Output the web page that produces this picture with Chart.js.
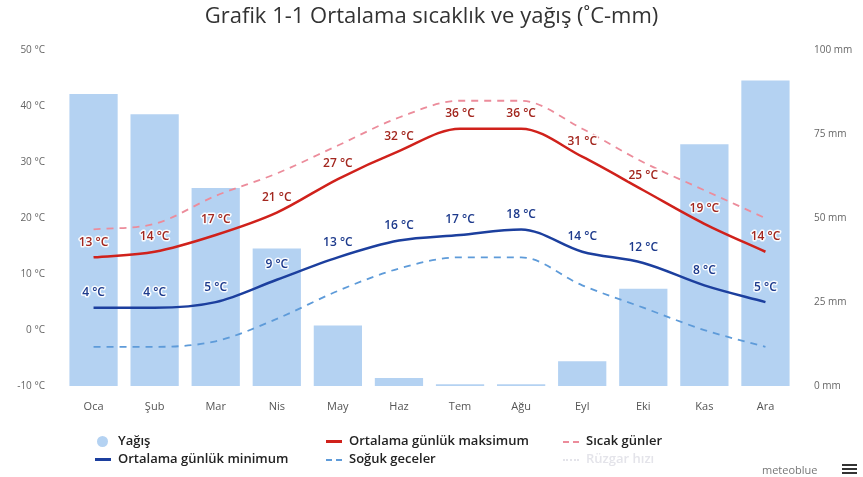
<!DOCTYPE html>
<html lang="tr">
<head>
<meta charset="utf-8">
<script src="https://cdn.jsdelivr.net/npm/chart.js@4.4.1/dist/chart.umd.min.js"></script>
<style>
    body { margin: 0; background: #fff; font-family: "Open Sans", sans-serif; }
    .wrap { position: relative; width: 863px; height: 477px; }
    #chart { position: absolute; left: 0; top: 0; }
    .legend { position: absolute; left: 0; top: 0; width: 863px; height: 477px; pointer-events: none; }
    .leg { position: absolute; font-size: 13px; font-weight: 600; color: #222; white-space: nowrap; line-height: 16px; }
    .leg i { display: inline-block; vertical-align: middle; margin-right: 7px; }
    .brand { position: absolute; left: 762px; top: 462px; font-size: 11px; color: #777; }
    .menu { position: absolute; left: 842px; top: 464px; width: 15px; }
    .menu b { display: block; height: 2px; background: #333; margin-bottom: 2px; }
</style>
</head>
<body>
<div class="wrap">
    <canvas id="chart" width="863" height="477"></canvas>
    <div class="legend" id="legend"></div>
    <div class="brand">meteoblue</div>
    <div class="menu"><b></b><b></b><b></b></div>
</div>
<script>
//Veriler
const aylar = ['Oca', 'Şub', 'Mar', 'Nis', 'May', 'Haz', 'Tem', 'Ağu', 'Eyl', 'Eki', 'Kas', 'Ara'];
const yagis = [87, 81, 59, 41, 18, 2.4, 0.5, 0.5, 7.4, 29, 72, 91];
const maksimum = [13, 14, 17, 21, 27, 32, 36, 36, 31, 25, 19, 14];
const minimum = [4, 4, 5, 9, 13, 16, 17, 18, 14, 12, 8, 5];
const sicakGunler = [18, 19, 24, 28, 33, 38, 41, 41, 36, 30, 25, 20];
const sogukGeceler = [-3, -3, -2, 2, 7, 11, 13, 13, 8, 4, 0, -3];
const sicaklikTikleri = [-10, 0, 10, 20, 30, 40, 50];
const yagisTikleri = [0, 25, 50, 75, 100];

// nokta etiketleri (13 °C gibi)
const etiketPlugin = {
    id: 'etiketler',
    afterDatasetsDraw(chart) {
        const ctx = chart.ctx;
        chart.data.datasets.forEach((ds, i) => {
            if (!ds.etiketRenk) return;
            const meta = chart.getDatasetMeta(i);
            meta.data.forEach((p, j) => {
                const txt = ds.data[j] + ' °C';
                ctx.save();
                ctx.font = '600 12px "Open Sans", sans-serif';
                ctx.textAlign = 'center';
                ctx.textBaseline = 'middle';
                ctx.lineWidth = 3;
                ctx.strokeStyle = 'rgba(255,255,255,0.9)';
                ctx.lineJoin = 'round';
                ctx.strokeText(txt, p.x, p.y - 15);
                ctx.fillStyle = ds.etiketRenk;
                ctx.fillText(txt, p.x, p.y - 15);
                ctx.restore();
            });
        });
    }
};

const grafik = new Chart(document.getElementById('chart'), {
    data: {
        labels: aylar,
        datasets: [
            {
                type: 'line', label: 'Ortalama günlük maksimum', data: maksimum, yAxisID: 'y',
                borderColor: '#d0211b', borderWidth: 2.5, pointRadius: 0, cubicInterpolationMode: 'monotone',
                etiketRenk: '#a3271f', order: 1
            },
            {
                type: 'line', label: 'Ortalama günlük minimum', data: minimum, yAxisID: 'y',
                borderColor: '#1c3f9e', borderWidth: 2.5, pointRadius: 0, cubicInterpolationMode: 'monotone',
                etiketRenk: '#1d3a8c', order: 1
            },
            {
                type: 'line', label: 'Sıcak günler', data: sicakGunler, yAxisID: 'y',
                borderColor: '#ec8c9b', borderWidth: 1.8, borderDash: [7, 6], pointRadius: 0,
                cubicInterpolationMode: 'monotone', order: 2
            },
            {
                type: 'line', label: 'Soğuk geceler', data: sogukGeceler, yAxisID: 'y',
                borderColor: '#5e9bd9', borderWidth: 1.8, borderDash: [7, 6], pointRadius: 0,
                cubicInterpolationMode: 'monotone', order: 2
            },
            {
                type: 'bar', label: 'Yağış', data: yagis, yAxisID: 'y1',
                backgroundColor: '#b4d2f2', categoryPercentage: 1, barPercentage: 0.79, order: 10
            }
        ]
    },
    options: {
        responsive: false,
        animation: false,
        layout: { padding: { top: 0, bottom: 61, left: 0, right: 0 } },
        plugins: {
            legend: { display: false },
            tooltip: { enabled: false },
            title: {
                display: true,
                text: 'Grafik 1-1 Ortalama sıcaklık ve yağış (˚C-mm)',
                color: '#333',
                font: { family: '"Open Sans", sans-serif', size: 22, weight: 'normal' },
                padding: { top: 4, bottom: 20 }
            }
        },
        scales: {
            x: {
                grid: { display: false },
                border: { display: false },
                ticks: { color: '#555', font: { family: '"Open Sans", sans-serif', size: 11 }, padding: 6 },
                afterFit: (s) => { s.height = 30; }
            },
            y: {
                position: 'left',
                min: -10, max: 50,
                grid: { display: false },
                border: { display: false },
                afterBuildTicks: (s) => { s.ticks = sicaklikTikleri.map(v => ({ value: v })); },
                ticks: { color: '#666', font: { family: '"Open Sans", sans-serif', size: 10 }, callback: v => v + ' °C', padding: 10 },
                afterFit: (s) => { s.width = 63; }
            },
            y1: {
                position: 'right',
                min: 0, max: 100,
                grid: { display: false },
                border: { display: false },
                afterBuildTicks: (s) => { s.ticks = yagisTikleri.map(v => ({ value: v })); },
                ticks: { color: '#666', font: { family: '"Open Sans", sans-serif', size: 10 }, callback: v => v + ' mm', padding: 10 },
                afterFit: (s) => { s.width = 67; }
            }
        }
    },
    plugins: [etiketPlugin]
});

// Legend (HTML)
const legendEl = document.getElementById('legend');
const yerler = {
    'Yağış': [95, 432],
    'Ortalama günlük maksimum': [326, 432],
    'Sıcak günler': [563, 432],
    'Ortalama günlük minimum': [95, 450],
    'Soğuk geceler': [326, 450]
};
grafik.data.datasets.forEach(ds => {
    const pos = yerler[ds.label];
    const d = document.createElement('div');
    d.className = 'leg';
    d.style.left = pos[0] + 'px';
    d.style.top = pos[1] + 'px';
    let marker;
    if (ds.type === 'bar') {
        marker = '<i style="width:11px;height:11px;border-radius:50%;background:' + ds.backgroundColor + ';margin-left:2px;margin-right:10px"></i>';
    } else if (ds.borderDash) {
        marker = '<i style="width:16px;height:0;border-top:2px dashed ' + ds.borderColor + '"></i>';
    } else {
        marker = '<i style="width:16px;height:2.5px;background:' + ds.borderColor + '"></i>';
    }
    d.innerHTML = marker + ds.label;
    legendEl.appendChild(d);
});
const ruzgar = document.createElement('div');
ruzgar.className = 'leg';
ruzgar.style.left = '563px';
ruzgar.style.top = '450px';
ruzgar.style.color = '#e4e4ea';
ruzgar.innerHTML = '<i style="width:16px;height:0;border-top:2px dotted #e4e4ea"></i>Rüzgar hızı';
legendEl.appendChild(ruzgar);
</script>
</body>
</html>
